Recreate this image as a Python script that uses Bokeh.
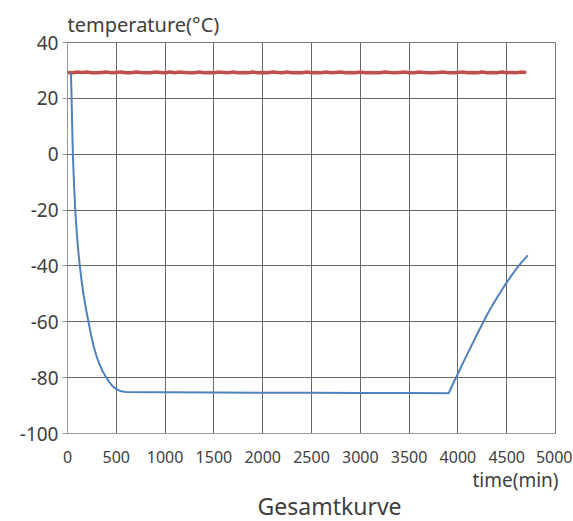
from bokeh.plotting import figure
from bokeh.models import SingleIntervalTicker, Title, Range1d
from bokeh.embed import file_html
from bokeh.resources import INLINE

# ambient temperature (red), sampled every 50 min
ambient_t = list(range(0, 4750, 50))
ambient_v = [29.3, 29.2, 29.4, 29.3, 29.4, 29.2, 29.2, 29.3, 29.4, 29.2,
             29.3, 29.4, 29.2, 29.2, 29.4, 29.3, 29.2, 29.2, 29.4, 29.3,
             29.2, 29.4, 29.2, 29.4, 29.3, 29.2, 29.2, 29.4, 29.2, 29.3,
             29.2, 29.4, 29.3, 29.2, 29.4, 29.2, 29.3, 29.2, 29.4, 29.2,
             29.3, 29.2, 29.4, 29.3, 29.2, 29.4, 29.2, 29.3, 29.2, 29.4,
             29.2, 29.3, 29.2, 29.4, 29.2, 29.3, 29.4, 29.2, 29.3, 29.2,
             29.4, 29.2, 29.3, 29.2, 29.2, 29.4, 29.3, 29.2, 29.3, 29.4,
             29.2, 29.2, 29.4, 29.3, 29.2, 29.2, 29.3, 29.4, 29.2, 29.2,
             29.3, 29.4, 29.2, 29.3, 29.2, 29.4, 29.2, 29.3, 29.2, 29.4,
             29.2, 29.3, 29.2, 29.4, 29.3]

# chamber temperature (blue)
chamber_t = [35, 42, 48, 55, 66, 79, 95, 110, 126, 145, 165, 190, 212, 240, 270,
             300, 330, 360, 389, 420, 450, 480, 510, 550, 600, 1000, 1500, 2000,
             2500, 3000, 3500, 3905, 3950, 4000, 4050, 4100, 4150, 4200, 4253,
             4300, 4350, 4400, 4450, 4500, 4550, 4600, 4650, 4716]
chamber_v = [29.3, 20, 10, 0, -10, -20, -28, -34.5, -40, -45.5, -50.5, -55.5,
             -59.5, -64.5, -69, -72.6, -75.4, -77.7, -79.5, -81.2, -82.6, -83.6,
             -84.3, -84.9, -85.1, -85.2, -85.3, -85.4, -85.4, -85.5, -85.5, -85.6,
             -82.2, -78.6, -74.9, -71.3, -67.8, -64.2, -60.6, -57.4, -54.3, -51.4,
             -48.6, -45.9, -43.4, -41.0, -38.8, -36.2]

x_ticks_interval = 500
y_ticks_interval = 20
y_tick_values = [-100, -80, -60, -40, -20, 0, 20, 40]

TEXT = "#404040"
FONT = "Noto Sans"

p = figure(width=572, height=521, output_backend="svg", toolbar_location=None,
           x_range=Range1d(0, 5000), y_range=Range1d(-100, 40),
           min_border_left=67, min_border_right=17, min_border_top=42, min_border_bottom=88)
p.background_fill_color = "white"
p.border_fill_color = "white"
p.outline_line_color = "#777777"

p.title.text = "temperature(°C)"
p.title.align = "left"
p.title.text_font = FONT
p.title.text_font_size = "20px"
p.title.text_font_style = "normal"
p.title.text_color = TEXT
p.title.standoff = 10

p.xaxis.ticker = SingleIntervalTicker(interval=x_ticks_interval)
p.yaxis.ticker = SingleIntervalTicker(interval=y_ticks_interval)
p.xgrid.ticker = SingleIntervalTicker(interval=x_ticks_interval)
p.ygrid.ticker = SingleIntervalTicker(interval=y_ticks_interval)
p.yaxis.major_label_overrides = {v: str(v) for v in y_tick_values}
for g in (p.xgrid, p.ygrid):
    g.grid_line_color = "#666666"
    g.grid_line_width = 1

for ax in (p.xaxis, p.yaxis):
    ax.axis_line_color = "#999999"
    ax.major_tick_line_color = "#999999"
    ax.minor_tick_line_color = None
    ax.major_tick_in = 0
    ax.major_label_text_color = TEXT
    ax.major_label_text_font = FONT

p.yaxis.major_tick_out = 5
p.yaxis.major_label_standoff = 4
p.yaxis.major_label_text_font_size = "19px"
p.xaxis.major_tick_out = 0
p.xaxis.major_label_standoff = 13
p.xaxis.major_label_text_font_size = "16px"

p.line(ambient_t, ambient_v, line_color="#C0504D", line_width=3.5)
p.line(chamber_t, chamber_v, line_color="#4F81BD", line_width=2)

p.add_layout(Title(text="time(min)", align="right", text_font=FONT, text_font_size="19px",
                   text_font_style="normal", text_color=TEXT, standoff=-2, offset=-3), "below")
p.add_layout(Title(text="Gesamtkurve", align="left", text_font=FONT, text_font_size="23px",
                   text_font_style="normal", text_color=TEXT, standoff=-7, offset=190), "below")

open("out.html", "w").write(file_html(p, INLINE))
